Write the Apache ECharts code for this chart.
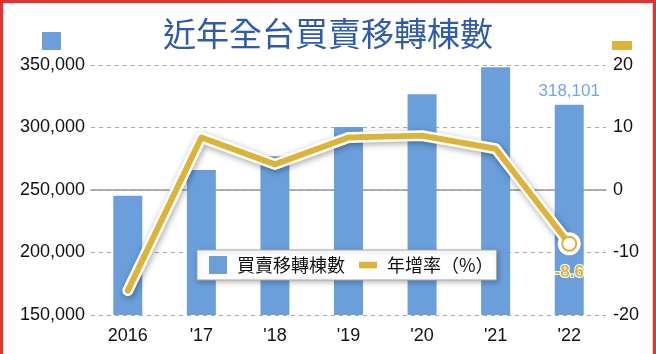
<!DOCTYPE html>
<html>
<head>
<meta charset="utf-8">
<script src="https://cdn.jsdelivr.net/npm/echarts@6/dist/echarts.min.js"></script>
<style>
  html, body { margin: 0; padding: 0; background: #fff; }
  #wrap { position: relative; width: 656px; height: 354px; }
  #chart { position: absolute; left: 0; top: 0; width: 656px; height: 354px; }
  #frame { position: absolute; left: 0; top: 0; width: 650px; height: 351px;
           border: 3px solid #e0342c; border-bottom: none; pointer-events: none; }
  #inner { position: absolute; left: 0; top: 0; width: 648px; height: 350px;
           border: 1px solid #c9dbe8; border-bottom: none; }
</style>
</head>
<body>
<div id="wrap">
  <div id="chart"></div>
  <div id="frame"><div id="inner"></div></div>
</div>
<script>
// data
var years = ['2016', "'17", "'18", "'19", "'20", "'21", "'22"];
var transfers = [245396, 266086, 276974, 300342, 326589, 348194, 318101];
var growth = [-16.1, 8.4, 4.1, 8.4, 8.7, 6.6, -8.6];
var leftTicks = [150000, 350000, 50000];  // min, max, step
var rightTicks = [-20, 20, 10];

var blue = '#6a9fdb';
var gold = '#dcb43a';
var last = years.length - 1;
var font = 'Liberation Sans, Arial, sans-serif';
var cjk = '"Noto Sans CJK TC", "Noto Sans CJK SC", sans-serif';

var chart = echarts.init(document.getElementById('chart'));

var option = {
  animation: false,
  title: {
    text: '近年全台買賣移轉棟數',
    left: 'center',
    top: 12,
    textStyle: { color: '#2f5ba7', fontSize: 33, fontWeight: 'normal', fontFamily: cjk }
  },
  grid: { left: 91, right: 50, top: 65, bottom: 39 },
  legend: {
    left: 197,
    top: 250,
    padding: [6, 3, 6, 12],
    itemGap: 14,
    itemWidth: 18,
    itemHeight: 18,
    backgroundColor: '#fff',
    borderColor: '#a8a8a8',
    borderWidth: 1,
    shadowColor: 'rgba(0,0,0,0.25)',
    shadowBlur: 5,
    shadowOffsetX: 1,
    shadowOffsetY: 2,
    textStyle: { fontSize: 18, color: '#111', fontFamily: cjk, padding: [0, 0, 0, 5] },
    data: [
      { name: '買賣移轉棟數', icon: 'rect' },
      { name: '年增率（%）', icon: 'path://M0,0H19V7H0Z', itemStyle: { color: gold } }
    ]
  },
  graphic: [
    { type: 'rect', left: 42, top: 32, shape: { width: 19, height: 18 }, style: { fill: blue } },
    { type: 'rect', left: 612, top: 41, shape: { width: 20, height: 9 }, style: { fill: gold } }
  ],
  xAxis: {
    type: 'category',
    data: years,
    axisLine: { lineStyle: { color: '#999', width: 1.5 } },
    axisTick: { alignWithLabel: true, length: 6, lineStyle: { color: '#999', width: 1.5 } },
    axisLabel: { fontSize: 18, color: '#111', margin: 12, fontFamily: font }
  },
  yAxis: [
    {
      type: 'value',
      min: leftTicks[0], max: leftTicks[1], interval: leftTicks[2],
      axisLine: { show: false },
      axisTick: { show: false },
      axisLabel: {
        fontSize: 18, color: '#111', margin: 6, fontFamily: font,
        formatter: function (v) { return v.toLocaleString('en-US'); }
      },
      splitLine: { lineStyle: { color: '#a9a9a9', type: [4, 4], width: 1 } }
    },
    {
      type: 'value',
      min: rightTicks[0], max: rightTicks[1], interval: rightTicks[2],
      axisLine: { show: false },
      axisTick: { show: false },
      axisLabel: { fontSize: 18, color: '#111', margin: 7, fontFamily: font },
      splitLine: { show: false }
    }
  ],
  series: [
    {
      name: '買賣移轉棟數',
      type: 'bar',
      barWidth: 29,
      itemStyle: { color: blue },
      z: 1,
      data: transfers.map(function (v, i) {
        if (i !== last) return v;
        return {
          value: v,
          label: {
            show: true, position: 'top', distance: 5,
            color: '#72a6dd', fontSize: 17, fontFamily: font,
            formatter: function (p) { return p.value.toLocaleString('en-US'); }
          }
        };
      })
    },
    {
      name: 'outline',
      type: 'line',
      yAxisIndex: 1,
      silent: true,
      z: 3,
      symbol: 'none',
      lineStyle: {
        color: '#fff', width: 11, cap: 'round', join: 'round',
        shadowColor: 'rgba(0,0,0,0.35)', shadowBlur: 6, shadowOffsetX: 1, shadowOffsetY: 2
      },
      data: growth.map(function (v, i) {
        if (i !== last) return v;
        return { value: v, symbol: 'circle', symbolSize: 23, itemStyle: { color: '#fff' } };
      })
    },
    {
      name: '年增率（%）',
      type: 'line',
      yAxisIndex: 1,
      z: 4,
      symbol: 'none',
      lineStyle: { color: gold, width: 6, cap: 'round', join: 'round' },
      itemStyle: { color: gold },
      data: growth.map(function (v, i) {
        if (i !== last) return v;
        return {
          value: v,
          symbol: 'emptyCircle',
          symbolSize: 14,
          itemStyle: { color: gold, borderColor: gold, borderWidth: 5 },
          label: {
            show: true, position: 'bottom', distance: 12,
            color: gold, fontSize: 17, fontWeight: 'bold', fontFamily: font,
            textBorderColor: '#fff', textBorderWidth: 2
          }
        };
      })
    }
  ]
};

chart.setOption(option);
</script>
</body>
</html>
